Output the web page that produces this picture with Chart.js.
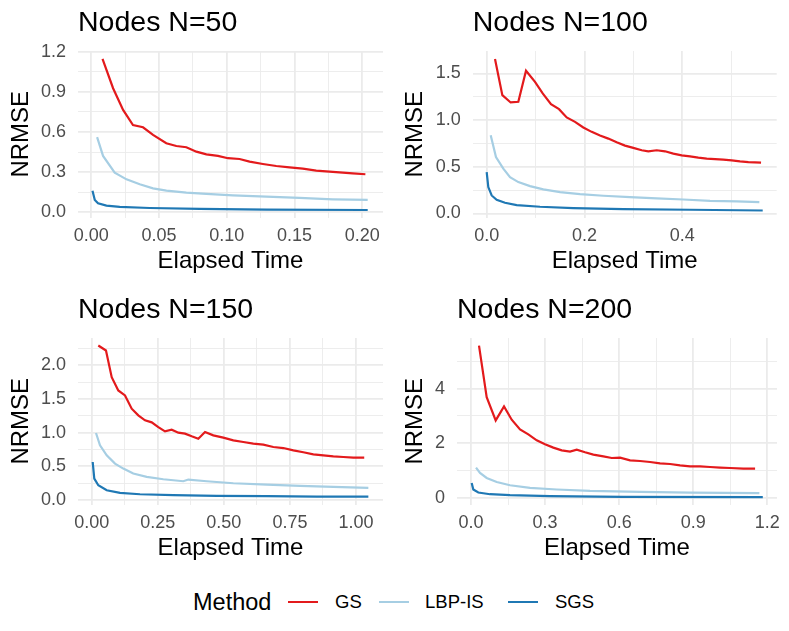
<!DOCTYPE html>
<html><head><meta charset="utf-8">
<script src="https://cdn.jsdelivr.net/npm/chart.js@4"></script>
<style>
html,body{margin:0;padding:0;background:#fff;width:789px;height:631px;overflow:hidden;font-family:"Liberation Sans",Arial,sans-serif}
.cell{position:absolute}
.cell canvas{display:block}
#legend{position:absolute;left:0;top:588px;width:789px;height:28px;line-height:28px;color:#000}
#legend span{position:absolute;top:0;white-space:nowrap}
#legend .key{top:13px;height:2.2px;width:30px}
</style></head><body>
<div class="cell" style="left:0;top:0"><canvas id="c1" width="394" height="287"></canvas></div>
<div class="cell" style="left:394px;top:0"><canvas id="c2" width="395" height="287"></canvas></div>
<div class="cell" style="left:0;top:287px"><canvas id="c3" width="394" height="287"></canvas></div>
<div class="cell" style="left:394px;top:287px"><canvas id="c4" width="395" height="287"></canvas></div>
<div id="legend">
  <span style="left:193px;font-size:23.5px">Method</span>
  <span class="key" style="left:288px;background:#E31A1C"></span>
  <span style="left:335px;font-size:18.5px">GS</span>
  <span class="key" style="left:379px;background:#A6CEE3"></span>
  <span style="left:425px;font-size:18.5px">LBP-IS</span>
  <span class="key" style="left:508px;background:#1F78B4"></span>
  <span style="left:555px;font-size:18.5px">SGS</span>
</div>
<script>
// ---------- data ----------
const methods = ['GS', 'LBP-IS', 'SGS'];
const colors = ['#E31A1C', '#A6CEE3', '#1F78B4'];
const titles = ['Nodes N=50', 'Nodes N=100', 'Nodes N=150', 'Nodes N=200'];

// Panel 1: N=50
const p1GS_t = [0.0083,0.0161,0.0235,0.0308,0.0382,0.0456,0.0554,0.0628,0.0702,0.0776,0.085,0.0935,0.1009,0.1095,0.1169,0.1267,0.1366,0.1464,0.1562,0.1661,0.1759,0.1857,0.193,0.2024];
const p1GS_e = [1.146,0.927,0.765,0.652,0.635,0.578,0.516,0.495,0.486,0.453,0.433,0.421,0.404,0.398,0.378,0.361,0.346,0.336,0.326,0.311,0.304,0.296,0.291,0.284];
const p1LBP_t = [0.0043,0.0087,0.0173,0.026,0.0358,0.0456,0.0555,0.0702,0.085,0.1046,0.1292,0.1538,0.1783,0.2041];
const p1LBP_e = [0.561,0.421,0.296,0.246,0.209,0.179,0.162,0.147,0.137,0.127,0.117,0.107,0.097,0.092];
const p1SGS_t = [0.0009,0.0026,0.005,0.0112,0.021,0.0431,0.08,0.1292,0.2041];
const p1SGS_e = [0.161,0.092,0.067,0.05,0.04,0.032,0.025,0.02,0.017];

// Panel 2: N=100
const p2GS_t = [0.017,0.032,0.049,0.0647,0.0804,0.0988,0.1145,0.1315,0.1479,0.1636,0.1806,0.1976,0.2147,0.2317,0.2487,0.2658,0.2828,0.2998,0.317,0.3305,0.3476,0.3646,0.3816,0.3988,0.4157,0.4327,0.4499,0.4669,0.4838,0.501,0.518,0.535,0.561];
const p2GS_e = [1.654,1.267,1.189,1.196,1.529,1.41,1.286,1.171,1.117,1.028,0.981,0.921,0.874,0.834,0.802,0.762,0.727,0.702,0.677,0.666,0.677,0.666,0.641,0.623,0.612,0.598,0.587,0.583,0.577,0.569,0.559,0.551,0.545];
const p2LBP_t = [0.0082,0.019,0.034,0.0477,0.0647,0.0886,0.1158,0.15,0.1908,0.2385,0.293,0.3476,0.402,0.4566,0.5112,0.5575];
const p2LBP_e = [0.838,0.605,0.48,0.39,0.336,0.293,0.258,0.229,0.207,0.19,0.175,0.161,0.15,0.136,0.129,0.121];
const p2SGS_t = [0.0,0.0033,0.0102,0.0204,0.0374,0.0613,0.109,0.177,0.2793,0.4157,0.5644];
const p2SGS_e = [0.444,0.283,0.193,0.147,0.115,0.089,0.072,0.057,0.046,0.04,0.032];

// Panel 3: N=150
const p3GS_t = [0.025,0.054,0.0757,0.1006,0.126,0.1513,0.1763,0.2017,0.227,0.252,0.2773,0.3027,0.3277,0.353,0.3784,0.4033,0.4287,0.46,0.4979,0.5358,0.5736,0.6114,0.6493,0.6871,0.725,0.7628,0.8006,0.8385,0.8763,0.9141,0.952,0.9898,1.031];
const p3GS_e = [2.292,2.218,1.822,1.625,1.551,1.354,1.255,1.181,1.151,1.081,1.018,1.043,0.998,0.984,0.944,0.909,1.007,0.958,0.924,0.884,0.859,0.835,0.82,0.785,0.77,0.736,0.707,0.677,0.662,0.647,0.637,0.628,0.628];
const p3LBP_t = [0.0163,0.0314,0.0568,0.0882,0.1196,0.1574,0.2081,0.2709,0.3466,0.3655,0.4351,0.5358,0.6621,0.7881,0.9141,1.0466];
const p3LBP_e = [0.993,0.81,0.662,0.539,0.465,0.391,0.341,0.307,0.277,0.302,0.277,0.247,0.228,0.207,0.193,0.178];
const p3SGS_t = [0.0038,0.0098,0.025,0.0568,0.1071,0.1827,0.3087,0.473,0.6621,0.8513,1.0466];
const p3SGS_e = [0.563,0.317,0.218,0.144,0.104,0.084,0.07,0.059,0.055,0.05,0.05];

// Panel 4: N=200
const p4GS_t = [0.0324,0.0635,0.1,0.1337,0.1648,0.1985,0.2321,0.2661,0.2997,0.3333,0.3674,0.401,0.4281,0.4617,0.4953,0.5358,0.5699,0.6035,0.644,0.6845,0.725,0.7655,0.806,0.8465,0.887,0.9275,0.968,1.0085,1.049,1.1029,1.1503];
const p4GS_e = [5.573,3.686,2.836,3.347,2.861,2.507,2.325,2.106,1.96,1.839,1.741,1.693,1.766,1.668,1.584,1.522,1.46,1.474,1.376,1.35,1.314,1.266,1.241,1.193,1.157,1.157,1.131,1.109,1.095,1.073,1.073];
const p4LBP_t = [0.0203,0.0365,0.0635,0.1041,0.158,0.239,0.3471,0.482,0.6845,0.887,1.1677];
const p4LBP_e = [1.109,0.912,0.73,0.584,0.464,0.365,0.307,0.255,0.219,0.197,0.172];
const p4SGS_t = [0.0028,0.0093,0.0296,0.077,0.158,0.32,0.6168,1.1815];
const p4SGS_e = [0.547,0.307,0.197,0.135,0.099,0.062,0.036,0.026];

// tick values and labels
const p1XTicks = [0,0.05,0.1,0.15,0.2], p1XLabels = ['0.00','0.05','0.10','0.15','0.20'], p1XMinor = [0.025,0.075,0.125,0.175];
const p1YTicks = [0,0.3,0.6,0.9,1.2], p1YLabels = ['0.0','0.3','0.6','0.9','1.2'], p1YMinor = [0.15,0.45,0.75,1.05];
const p2XTicks = [0,0.2,0.4], p2XLabels = ['0.0','0.2','0.4'], p2XMinor = [0.1,0.3,0.5];
const p2YTicks = [0,0.5,1.0,1.5], p2YLabels = ['0.0','0.5','1.0','1.5'], p2YMinor = [0.25,0.75,1.25];
const p3XTicks = [0,0.25,0.5,0.75,1.0], p3XLabels = ['0.00','0.25','0.50','0.75','1.00'], p3XMinor = [0.125,0.375,0.625,0.875];
const p3YTicks = [0,0.5,1.0,1.5,2.0], p3YLabels = ['0.0','0.5','1.0','1.5','2.0'], p3YMinor = [0.25,0.75,1.25,1.75,2.25];
const p4XTicks = [0,0.3,0.6,0.9,1.2], p4XLabels = ['0.0','0.3','0.6','0.9','1.2'], p4XMinor = [0.15,0.45,0.75,1.05];
const p4YTicks = [0,2,4], p4YLabels = ['0','2','4'], p4YMinor = [1,3,5];

// ---------- drawing ----------
const FF = '"Liberation Sans", Arial, Helvetica, sans-serif';

function axisTicks(major, minor) {
  return major.map(v => ({value: v, isMinor: false})).concat(minor.map(v => ({value: v, isMinor: true})))
    .sort((a, b) => a.value - b.value);
}

function panel(id, title, series, cfg) {
  const datasets = series.map((s, i) => ({
    label: methods[i],
    data: s[0].map((t, j) => ({x: t, y: s[1][j]})),
    borderColor: colors[i],
    backgroundColor: colors[i],
    borderWidth: 2.2,
    pointRadius: 0,
    tension: 0,
    fill: false,
    order: 3 - i
  }));
  const gridOpts = {
    color: '#ebebeb',
    lineWidth: ctx => (ctx.tick && ctx.tick.isMinor) ? 0.9 : 1.8,
    drawTicks: false
  };
  new Chart(document.getElementById(id), {
    type: 'line',
    data: {datasets},
    options: {
      responsive: false,
      animation: false,
      events: [],
      layout: {padding: {left: 0, right: cfg.rightPad, top: 0, bottom: 0}},
      plugins: {
        legend: {display: false},
        tooltip: {enabled: false},
        title: {
          display: true, text: title, align: 'start', fullSize: false, color: '#000',
          font: {family: FF, size: 28.5, weight: 'normal'},
          padding: {top: 6.2, bottom: 10.6}
        }
      },
      scales: {
        x: {
          type: 'linear', min: cfg.xMin, max: cfg.xMax,
          afterBuildTicks: s => { s.ticks = axisTicks(cfg.xT, cfg.xMinor); },
          afterFit: s => { s.height = 69.5; },
          grid: gridOpts,
          border: {display: false},
          ticks: {
            autoSkip: false, maxRotation: 0, padding: 8.2, color: '#4d4d4d',
            font: {family: FF, size: 18},
            callback: v => { const k = cfg.xT.indexOf(v); return k >= 0 ? cfg.xL[k] : ''; }
          },
          title: {display: true, text: 'Elapsed Time', color: '#000', font: {family: FF, size: 24}, padding: {top: 0, bottom: 10.9}}
        },
        y: {
          type: 'linear', min: cfg.yMin, max: cfg.yMax,
          afterBuildTicks: s => { s.ticks = axisTicks(cfg.yT, cfg.yMinor); },
          afterFit: s => { s.width = cfg.yW; },
          grid: gridOpts,
          border: {display: false},
          ticks: {
            autoSkip: false, padding: 12, color: '#4d4d4d',
            font: {family: FF, size: 18},
            callback: v => { const k = cfg.yT.indexOf(v); return k >= 0 ? cfg.yL[k] : ''; }
          },
          title: {display: true, text: 'NRMSE', color: '#000', font: {family: FF, size: 24}, padding: {top: 7.2, bottom: 0}}
        }
      }
    }
  });
}

panel('c1', titles[0], [[p1GS_t, p1GS_e], [p1LBP_t, p1LBP_e], [p1SGS_t, p1SGS_e]], {
  xMin: -0.0098, xMax: 0.2154, yMin: -0.039, yMax: 1.205, yW: 78, rightPad: 11,
  xT: p1XTicks, xL: p1XLabels, xMinor: p1XMinor, yT: p1YTicks, yL: p1YLabels, yMinor: p1YMinor
});
panel('c2', titles[1], [[p2GS_t, p2GS_e], [p2LBP_t, p2LBP_e], [p2SGS_t, p2SGS_e]], {
  xMin: -0.0286, xMax: 0.593, yMin: -0.043, yMax: 1.74, yW: 78.7, rightPad: 12.3,
  xT: p2XTicks, xL: p2XLabels, xMinor: p2XMinor, yT: p2YTicks, yL: p2YLabels, yMinor: p2YMinor
});
panel('c3', titles[2], [[p3GS_t, p3GS_e], [p3LBP_t, p3LBP_e], [p3SGS_t, p3SGS_e]], {
  xMin: -0.0518, xMax: 1.102, yMin: -0.068, yMax: 2.403, yW: 78, rightPad: 11,
  xT: p3XTicks, xL: p3XLabels, xMinor: p3XMinor, yT: p3YTicks, yL: p3YLabels, yMinor: p3YMinor
});
panel('c4', titles[3], [[p4GS_t, p4GS_e], [p4LBP_t, p4LBP_e], [p4SGS_t, p4SGS_e]], {
  xMin: -0.0567, xMax: 1.239, yMin: -0.241, yMax: 5.85, yW: 63, rightPad: 12,
  xT: p4XTicks, xL: p4XLabels, xMinor: p4XMinor, yT: p4YTicks, yL: p4YLabels, yMinor: p4YMinor
});
</script>
</body></html>
